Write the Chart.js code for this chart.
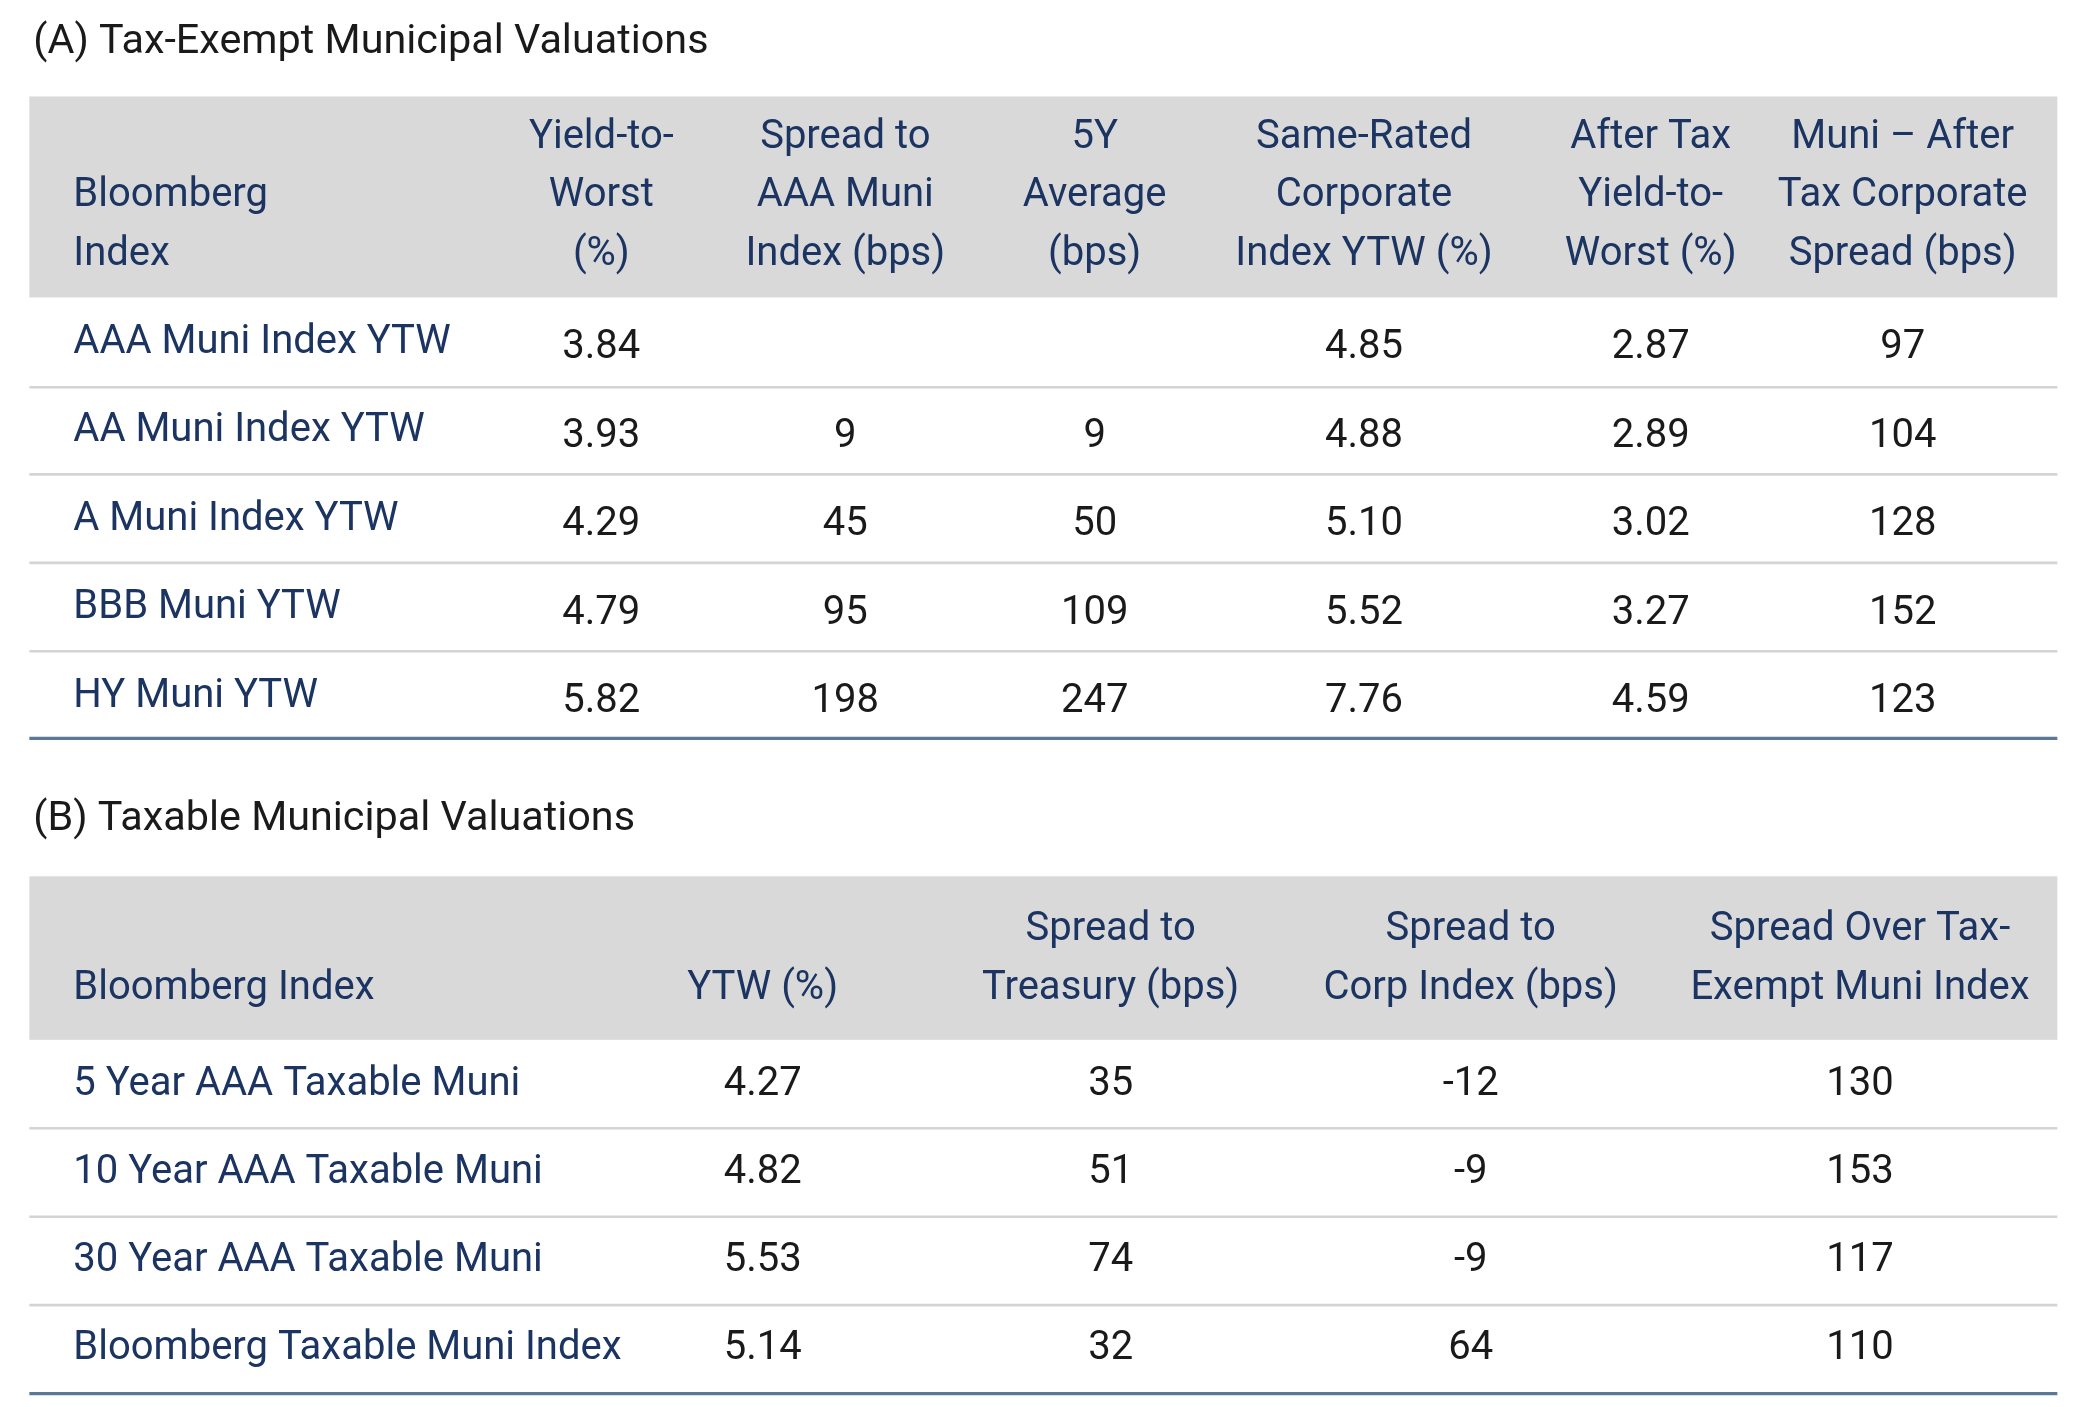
<!DOCTYPE html>
<html>
<head>
<meta charset="utf-8">
<script src="https://cdn.jsdelivr.net/npm/chart.js@4"></script>
<style>
  html, body { margin: 0; padding: 0; background: #fff; }
  #wrap { width: 2084px; height: 1407px; }
</style>
</head>
<body>
<div id="wrap"><canvas id="tabla"></canvas></div>
<script>
// Datos de la tabla (A)
const tituloA = "(A) Tax-Exempt Municipal Valuations";
const encabezadoA = [
  ["Bloomberg", "Index"],
  ["Yield-to-", "Worst", "(%)"],
  ["Spread to", "AAA Muni", "Index (bps)"],
  ["5Y", "Average", "(bps)"],
  ["Same-Rated", "Corporate", "Index YTW (%)"],
  ["After Tax", "Yield-to-", "Worst (%)"],
  ["Muni \u2013 After", "Tax Corporate", "Spread (bps)"]
];
const filasA = ["AAA Muni Index YTW", "AA Muni Index YTW", "A Muni Index YTW", "BBB Muni YTW", "HY Muni YTW"];
const ytwA = ["3.84", "3.93", "4.29", "4.79", "5.82"];
const spreadAAA = ["", "9", "45", "95", "198"];
const promedio5Y = ["", "9", "50", "109", "247"];
const corpYTW = ["4.85", "4.88", "5.10", "5.52", "7.76"];
const afterTaxYTW = ["2.87", "2.89", "3.02", "3.27", "4.59"];
const muniAfterTax = ["97", "104", "128", "152", "123"];

// Datos de la tabla (B)
const tituloB = "(B) Taxable Municipal Valuations";
const encabezadoB = [
  ["Bloomberg Index"],
  ["YTW (%)"],
  ["Spread to", "Treasury (bps)"],
  ["Spread to", "Corp Index (bps)"],
  ["Spread Over Tax-", "Exempt Muni Index"]
];
const filasB = ["5 Year AAA Taxable Muni", "10 Year AAA Taxable Muni", "30 Year AAA Taxable Muni", "Bloomberg Taxable Muni Index"];
const ytwB = ["4.27", "4.82", "5.53", "5.14"];
const spreadTreasury = ["35", "51", "74", "32"];
const spreadCorp = ["-12", "-9", "-9", "64"];
const spreadTaxExempt = ["130", "153", "117", "110"];

// Layout (unidades del lienzo de referencia 1563 x 1050)
const colsA = [55, 451, 634, 821, 1023, 1238, 1427];
const colsB = [55, 572, 833, 1103, 1395];
const filasAY = [258, 324, 390, 456, 522];
const filasBY = [810, 875, 941, 1007];

const AZUL = "#1b3461";
const NEGRO = "#1a1a1a";
const FUENTE = '"Liberation Sans Narrow", "Roboto", sans-serif';

const dibujarTabla = {
  id: "dibujarTabla",
  afterDraw(chart) {
    const { ctx, scales: { x, y } } = chart;
    const k = (x.getPixelForValue(1563) - x.getPixelForValue(0)) / 1563;
    const px = (v) => x.getPixelForValue(v);
    const py = (v) => y.getPixelForValue(v);
    const texto = (t, cx, cy, color, align, size) => {
      ctx.fillStyle = color;
      ctx.textAlign = align;
      ctx.textBaseline = "middle";
      ctx.font = (size || 30) * k + "px " + FUENTE;
      ctx.fillText(t, px(cx), py(cy));
    };
    const banda = (y0, y1) => {
      ctx.fillStyle = "#d9d9d9";
      ctx.fillRect(px(22), py(y0), px(1543) - px(22), py(y1) - py(y0));
    };
    const linea = (yy, color, w) => {
      ctx.strokeStyle = color;
      ctx.lineWidth = w * k;
      ctx.beginPath();
      ctx.moveTo(px(22), py(yy));
      ctx.lineTo(px(1543), py(yy));
      ctx.stroke();
    };

    ctx.save();
    // Tabla A
    texto(tituloA, 25, 32, NEGRO, "left", 31);
    banda(72, 222);
    encabezadoA.forEach((lineas, i) => {
      const inicio = 190 - (lineas.length - 1) * 43.5;
      lineas.forEach((l, j) => texto(l, colsA[i], inicio + j * 43.5, AZUL, i === 0 ? "left" : "center"));
    });
    [289, 354, 420, 486].forEach((yy) => linea(yy, "#d4d4d4", 2));
    linea(551, "#5b7896", 2.5);
    const valoresA = [ytwA, spreadAAA, promedio5Y, corpYTW, afterTaxYTW, muniAfterTax];
    filasA.forEach((f, r) => {
      texto(f, colsA[0], filasAY[r] - 2, AZUL, "left");
      valoresA.forEach((serie, c) => texto(serie[r], colsA[c + 1], filasAY[r] + 2, NEGRO, "center"));
    });

    // Tabla B
    texto(tituloB, 25, 612, NEGRO, "left", 31);
    banda(654, 776);
    encabezadoB.forEach((lineas, i) => {
      const inicio = 738 - (lineas.length - 1) * 44;
      lineas.forEach((l, j) => texto(l, colsB[i], inicio + j * 44, AZUL, i === 0 ? "left" : "center"));
    });
    [842, 908, 974].forEach((yy) => linea(yy, "#d4d4d4", 2));
    linea(1040, "#5b7896", 2.5);
    const valoresB = [ytwB, spreadTreasury, spreadCorp, spreadTaxExempt];
    filasB.forEach((f, r) => {
      texto(f, colsB[0], filasBY[r], AZUL, "left");
      valoresB.forEach((serie, c) => texto(serie[r], colsB[c + 1], filasBY[r], NEGRO, "center"));
    });
    ctx.restore();
  }
};

new Chart(document.getElementById("tabla"), {
  type: "scatter",
  data: { datasets: [{ data: [], pointRadius: 0 }] },
  options: {
    responsive: true,
    maintainAspectRatio: false,
    animation: false,
    layout: { padding: 0 },
    plugins: { legend: { display: false }, tooltip: { enabled: false } },
    scales: {
      x: { type: "linear", min: 0, max: 1563, display: false },
      y: { type: "linear", min: 0, max: 1050, reverse: true, display: false }
    }
  },
  plugins: [dibujarTabla]
});
</script>
</body>
</html>
